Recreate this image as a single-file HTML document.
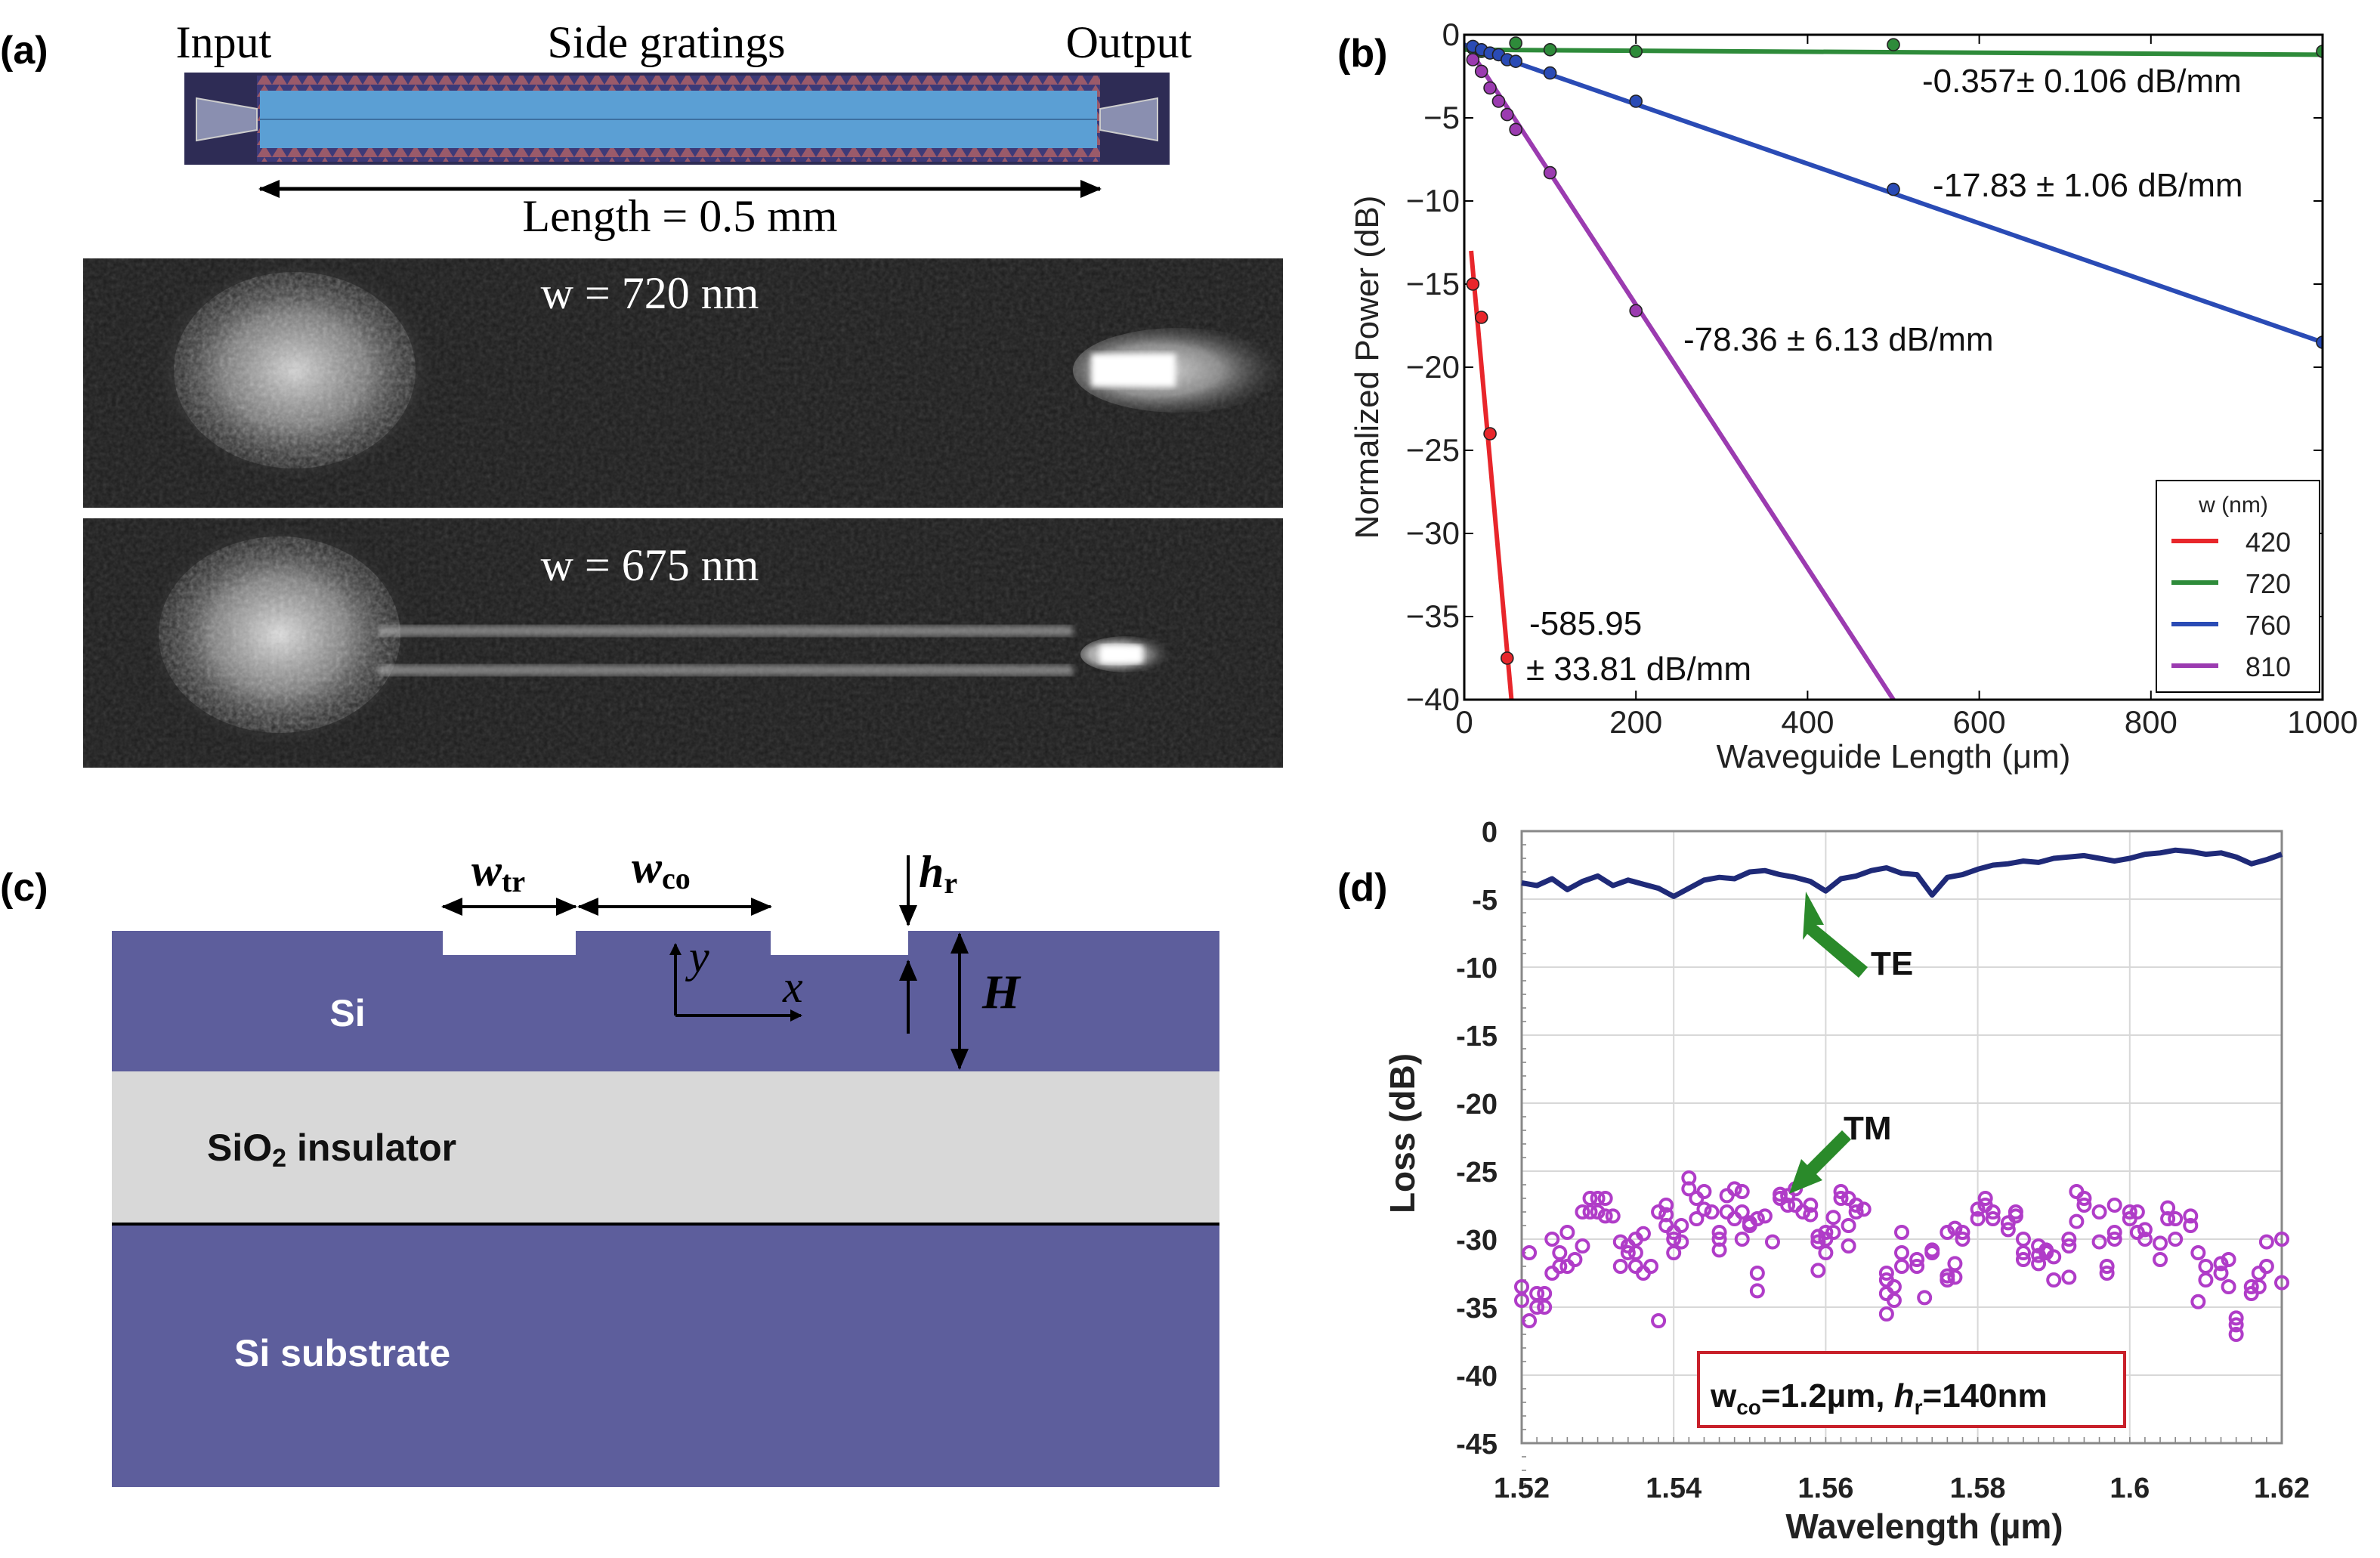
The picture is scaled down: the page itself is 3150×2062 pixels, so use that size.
<!DOCTYPE html>
<html><head><meta charset="utf-8">
<style>
html,body{margin:0;padding:0;background:#fff;}
svg{display:block;}
text{font-family:"Liberation Sans",sans-serif;}
.serif{font-family:"Liberation Serif",serif;}
</style></head>
<body>
<svg id="fig" width="3150" height="2062" viewBox="0 0 1575 1031" xmlns="http://www.w3.org/2000/svg">
<defs>
  <filter id="noise" x="0" y="0" width="100%" height="100%">
    <feTurbulence type="fractalNoise" baseFrequency="0.35" numOctaves="2" seed="3"/>
    <feColorMatrix type="saturate" values="0"/>
  </filter>
  <filter id="blur2"><feGaussianBlur stdDeviation="2"/></filter>
  <filter id="blur6"><feGaussianBlur stdDeviation="6"/></filter>
  <clipPath id="cl1"><ellipse cx="195" cy="245" rx="80" ry="65"/></clipPath>
  <clipPath id="cl2"><ellipse cx="185" cy="420" rx="80" ry="65"/></clipPath>
  <radialGradient id="blob" cx="0.5" cy="0.5" r="0.5">
    <stop offset="0" stop-color="#fff" stop-opacity="0.95"/>
    <stop offset="0.5" stop-color="#ccc" stop-opacity="0.6"/>
    <stop offset="1" stop-color="#333" stop-opacity="0"/>
  </radialGradient>
  <radialGradient id="spot" cx="0.4" cy="0.5" r="0.6">
    <stop offset="0" stop-color="#fff"/>
    <stop offset="0.5" stop-color="#ddd" stop-opacity="0.7"/>
    <stop offset="1" stop-color="#555" stop-opacity="0"/>
  </radialGradient>
  <pattern id="grat" width="10" height="8" patternUnits="userSpaceOnUse">
    <rect width="10" height="8" fill="#3d3a78"/>
    <polygon points="0,8 5,0 10,8" fill="#9a5a6a"/>
  </pattern>
  <marker id="ah" markerWidth="8" markerHeight="8" refX="7" refY="4" orient="auto" markerUnits="userSpaceOnUse">
    <path d="M0,0 L8,4 L0,8 Z" fill="#000"/>
  </marker>
  <marker id="ahs" markerWidth="14" markerHeight="12" refX="13" refY="6" orient="auto-start-reverse" markerUnits="userSpaceOnUse">
    <path d="M0,0 L14,6 L0,12 Z" fill="#000"/>
  </marker>
</defs>

<!-- ============ Panel (a) ============ -->
<g>
  <text x="0" y="42" font-size="26" font-weight="bold">(a)</text>
  <text class="serif" x="148" y="38" font-size="30" text-anchor="middle">Input</text>
  <text class="serif" x="441" y="38" font-size="30" text-anchor="middle">Side gratings</text>
  <text class="serif" x="747" y="38" font-size="30" text-anchor="middle">Output</text>
  <g>
    <rect x="122" y="48" width="652" height="61" fill="#2e2c55"/>
    <rect x="170" y="50" width="558" height="57" fill="url(#grat)"/>
    <rect x="172" y="60" width="554" height="38" fill="#5b9fd4"/>
    <line x1="172" y1="79" x2="726" y2="79" stroke="#3c6fa0" stroke-width="1"/>
    <polygon points="130,65 170,72 170,86 130,93" fill="#8a8fb0" stroke="#ccc" stroke-width="1"/>
    <polygon points="766,65 728,72 728,86 766,93" fill="#8a8fb0" stroke="#ccc" stroke-width="1"/>
  </g>
  <line x1="172" y1="125" x2="728" y2="125" stroke="#000" stroke-width="2.5" marker-start="url(#ahs)" marker-end="url(#ahs)"/>
  <text class="serif" x="450" y="153" font-size="30" text-anchor="middle">Length = 0.5 mm</text>

  <g>
    <rect x="55" y="171" width="794" height="165" fill="#1c1c1c"/>
    <rect x="55" y="171" width="794" height="165" filter="url(#noise)" opacity="0.18"/>
    <ellipse cx="195" cy="245" rx="95" ry="75" fill="url(#blob)" opacity="0.85"/>
    <rect x="110" y="175" width="170" height="150" filter="url(#noise)" opacity="0.35" clip-path="url(#cl1)"/>
    <ellipse cx="780" cy="245" rx="70" ry="28" fill="url(#spot)" opacity="0.8"/>
    <rect x="722" y="234" width="56" height="22" fill="#fff" filter="url(#blur2)"/>
    <text class="serif" x="430" y="204" font-size="30" fill="#fff" text-anchor="middle">w = 720 nm</text>
  </g>
  <g>
    <rect x="55" y="343" width="794" height="165" fill="#1c1c1c"/>
    <rect x="55" y="343" width="794" height="165" filter="url(#noise)" opacity="0.18"/>
    <ellipse cx="185" cy="420" rx="90" ry="75" fill="url(#blob)" opacity="0.9"/>
    <rect x="100" y="350" width="170" height="150" filter="url(#noise)" opacity="0.35" clip-path="url(#cl2)"/>
    <rect x="250" y="414" width="460" height="7" fill="#bbb" opacity="0.6" filter="url(#blur2)"/>
    <rect x="250" y="440" width="460" height="7" fill="#bbb" opacity="0.6" filter="url(#blur2)"/>
    <ellipse cx="745" cy="433" rx="30" ry="12" fill="url(#spot)"/>
    <rect x="728" y="427" width="28" height="12" fill="#fff" filter="url(#blur2)"/>
    <text class="serif" x="430" y="384" font-size="30" fill="#fff" text-anchor="middle">w = 675 nm</text>
  </g>
</g>

<!-- ============ Panel (c) ============ -->
<g>
  <text x="0" y="596" font-size="26" font-weight="bold">(c)</text>
  <polygon fill="#5d5e9c"
    points="74,616 293,616 293,632 381,632 381,616 510,616 510,632 601,632 601,616 807,616 807,709 74,709"/>
  <rect x="74" y="709" width="733" height="101" fill="#d8d8d8"/>
  <line x1="74" y1="810" x2="807" y2="810" stroke="#000" stroke-width="2"/>
  <rect x="74" y="811" width="733" height="173" fill="#5d5e9c"/>
  <text x="230" y="679" font-size="25" font-weight="bold" fill="#fff" text-anchor="middle">Si</text>
  <text x="137" y="768" font-size="25" font-weight="bold" fill="#111">SiO<tspan font-size="17" dy="4">2</tspan><tspan dy="-4"> insulator</tspan></text>
  <text x="155" y="904" font-size="25" font-weight="bold" fill="#fff">Si substrate</text>
  <line x1="293" y1="600" x2="381" y2="600" stroke="#000" stroke-width="2" marker-start="url(#ahs)" marker-end="url(#ahs)"/>
  <line x1="383" y1="600" x2="510" y2="600" stroke="#000" stroke-width="2" marker-start="url(#ahs)" marker-end="url(#ahs)"/>
  <text class="serif" x="312" y="586" font-size="30" font-style="italic" font-weight="bold">w<tspan font-size="20" dy="4" font-style="normal">tr</tspan></text>
  <text class="serif" x="418" y="584" font-size="30" font-style="italic" font-weight="bold">w<tspan font-size="20" dy="4" font-style="normal">co</tspan></text>
  <line x1="601" y1="566" x2="601" y2="612" stroke="#000" stroke-width="2" marker-end="url(#ahs)"/>
  <text class="serif" x="608" y="587" font-size="30" font-style="italic" font-weight="bold">h<tspan font-size="20" dy="4" font-style="normal">r</tspan></text>
  <line x1="601" y1="684" x2="601" y2="636" stroke="#000" stroke-width="2" marker-end="url(#ahs)"/>
  <line x1="635" y1="618" x2="635" y2="707" stroke="#000" stroke-width="2" marker-start="url(#ahs)" marker-end="url(#ahs)"/>
  <text class="serif" x="650" y="667" font-size="32" font-style="italic" font-weight="bold">H</text>
  <line x1="447" y1="672" x2="447" y2="625" stroke="#000" stroke-width="2" marker-end="url(#ah)"/>
  <line x1="447" y1="672" x2="530" y2="672" stroke="#000" stroke-width="2" marker-end="url(#ah)"/>
  <text class="serif" x="456" y="643" font-size="30" font-style="italic">y</text>
  <text class="serif" x="518" y="663" font-size="30" font-style="italic">x</text>
</g>

<!-- ============ Panel (b) ============ -->
<g id="panelB">
  <text x="885" y="44" font-size="26" font-weight="bold">(b)</text>
</g>

<!-- ============ Panel (d) ============ -->
<g id="panelD">
  <text x="885" y="596" font-size="26" font-weight="bold">(d)</text>
</g>
</svg>

<script>
// ---------- Panel (b) data ----------
const bXTicks = [0, 200, 400, 600, 800, 1000];
const bYTicks = [0, -5, -10, -15, -20, -25, -30, -35, -40];
const seriesNames = ["420", "720", "760", "810"];
const seriesColors = ["#e8262b", "#2e8b3a", "#2a4bb5", "#9b3bb0"];
const red420X = [10, 20, 30, 50];
const red420Y = [-15, -17, -24, -37.5];
const green720X = [10, 20, 60, 100, 200, 500, 1000];
const green720Y = [-0.8, -1.0, -0.5, -0.9, -1.0, -0.6, -1.0];
const blue760X = [10, 20, 30, 40, 50, 60, 100, 200, 500, 1000];
const blue760Y = [-0.7, -0.9, -1.1, -1.2, -1.5, -1.6, -2.3, -4.0, -9.3, -18.5];
const purple810X = [10, 20, 30, 40, 50, 60, 100, 200];
const purple810Y = [-1.5, -2.2, -3.2, -4.0, -4.8, -5.7, -8.3, -16.6];
const red420Fit = [8, -13, 55, -40];
const green720Fit = [0, -0.9, 1000, -1.2];
const blue760Fit = [0, -0.6, 1000, -18.5];
const purple810Fit = [10, -1.2, 500, -40];
const fitLabels = ["-0.357\u00b1 0.106 dB/mm", "-17.83 \u00b1 1.06 dB/mm", "-78.36 \u00b1 6.13 dB/mm", "-585.95", "\u00b1 33.81 dB/mm"];

// ---------- Panel (d) data ----------
const dXTicks = [1.52, 1.54, 1.56, 1.58, 1.6, 1.62];
const dXTickLabels = ["1.52", "1.54", "1.56", "1.58", "1.6", "1.62"];
const dYTicks = [0, -5, -10, -15, -20, -25, -30, -35, -40, -45];
const teX = [1.520,1.522,1.524,1.526,1.528,1.530,1.532,1.534,1.536,1.538,1.540,1.542,1.544,1.546,1.548,1.550,1.552,1.554,1.556,1.558,1.560,1.562,1.564,1.566,1.568,1.570,1.572,1.574,1.576,1.578,1.580,1.582,1.584,1.586,1.588,1.590,1.592,1.594,1.596,1.598,1.600,1.602,1.604,1.606,1.608,1.610,1.612,1.614,1.616,1.618,1.620];
const teY = [-3.8,-4.0,-3.5,-4.3,-3.7,-3.3,-4.0,-3.6,-3.9,-4.2,-4.8,-4.2,-3.6,-3.4,-3.5,-3.0,-2.9,-3.2,-3.4,-3.7,-4.4,-3.5,-3.3,-2.9,-2.7,-3.1,-3.2,-4.7,-3.4,-3.2,-2.8,-2.5,-2.4,-2.2,-2.3,-2.0,-1.9,-1.8,-2.0,-2.2,-2.0,-1.7,-1.6,-1.4,-1.5,-1.7,-1.6,-1.9,-2.4,-2.1,-1.7];
const tmX = [1.520,1.520,1.521,1.521,1.522,1.522,1.523,1.523,1.524,1.524,1.525,1.525,1.526,1.526,1.527,1.528,1.528,1.529,1.529,1.530,1.530,1.531,1.531,1.532,1.533,1.533,1.534,1.534,1.535,1.535,1.535,1.536,1.536,1.537,1.538,1.538,1.539,1.539,1.539,1.540,1.540,1.540,1.541,1.541,1.542,1.542,1.543,1.543,1.544,1.544,1.545,1.546,1.546,1.546,1.547,1.547,1.548,1.548,1.549,1.549,1.549,1.550,1.550,1.551,1.551,1.551,1.552,1.553,1.554,1.554,1.555,1.555,1.556,1.556,1.557,1.558,1.558,1.559,1.559,1.559,1.560,1.560,1.560,1.561,1.561,1.562,1.562,1.563,1.563,1.563,1.564,1.564,1.565,1.568,1.568,1.568,1.568,1.569,1.569,1.570,1.570,1.570,1.572,1.572,1.573,1.574,1.574,1.576,1.576,1.576,1.577,1.577,1.577,1.578,1.578,1.580,1.580,1.581,1.581,1.582,1.582,1.584,1.584,1.585,1.585,1.586,1.586,1.586,1.588,1.588,1.588,1.589,1.589,1.590,1.590,1.592,1.592,1.592,1.593,1.593,1.594,1.594,1.596,1.596,1.597,1.597,1.598,1.598,1.598,1.600,1.600,1.601,1.601,1.602,1.602,1.604,1.604,1.605,1.605,1.606,1.606,1.608,1.608,1.609,1.609,1.610,1.610,1.612,1.612,1.613,1.613,1.614,1.614,1.614,1.616,1.616,1.617,1.617,1.618,1.618,1.620,1.620];
const tmY = [-33.5,-34.5,-31,-36,-34,-35,-35,-34,-32.5,-30,-31,-32,-29.5,-32,-31.5,-28,-30.5,-27,-28,-27,-28,-27,-28.3,-28.3,-30.2,-32,-31,-30.5,-32,-31,-30,-29.6,-32.5,-32,-36,-28,-28.2,-27.5,-29,-29.5,-30,-31,-29,-30.2,-26.3,-25.5,-27,-28.5,-26.5,-27.8,-28,-29.5,-30.8,-30,-28,-26.8,-26.3,-28.5,-26.5,-28,-30,-29,-28.8,-28.5,-32.5,-33.8,-28.3,-30.2,-27,-26.7,-27.5,-26.8,-26.3,-27.5,-28,-27.5,-28.2,-29.8,-30.2,-32.3,-31,-30,-29.5,-29.5,-28.4,-26.5,-27,-27,-29,-30.5,-27.5,-28,-27.8,-33,-32.5,-34,-35.5,-34.5,-33.5,-32,-31,-29.5,-32,-31.5,-34.3,-30.8,-31,-29.5,-33,-32.7,-31.8,-29.2,-32.8,-29.5,-30,-28.5,-27.8,-27.5,-27,-28,-28.5,-29.3,-28.8,-28.3,-28,-30,-31,-31.5,-30.5,-31.8,-31.2,-30.8,-31,-31.3,-33,-30,-30.5,-32.8,-28.7,-26.5,-27,-27.5,-30.2,-28,-32.5,-32,-29.5,-30,-27.5,-28,-28.5,-29.5,-28,-29.3,-30,-30.3,-31.5,-27.7,-28.5,-28.5,-30,-29,-28.3,-31,-34.6,-32,-33,-32.5,-31.8,-31.5,-33.5,-35.8,-36.3,-37,-33.5,-34,-32.5,-33.5,-32,-30.2,-33.2,-30];

const NS = "http://www.w3.org/2000/svg";
function mk(parent, tag, attrs, txt) {
  const e = document.createElementNS(NS, tag);
  for (const k in attrs) e.setAttribute(k, attrs[k]);
  if (txt !== undefined) e.textContent = txt;
  parent.appendChild(e);
  return e;
}

// ===== Panel (b) =====
(function(){
  const g = document.getElementById("panelB");
  const L = 969, R = 1537, T = 23, B = 463;
  const xs = v => L + (v - 0) / 1000 * (R - L);
  const ys = v => T + (0 - v) / 40 * (B - T);
  const clip = mk(g, "clipPath", {id: "clipB"});
  mk(clip, "rect", {x: L, y: T, width: R - L, height: B - T});
  bXTicks.forEach(t => {
    const x = xs(t);
    const tk = mk(g, "line", {x1: x, y1: B, x2: x, y2: B - 6, stroke: "#000", "stroke-width": 1});
    
    
    mk(g, "line", {x1: x, y1: T, x2: x, y2: T + 6, stroke: "#000", "stroke-width": 1});
    const lb = mk(g, "text", {x: x, y: B + 22, "font-size": 21, "text-anchor": "middle", fill: "#222"}, String(t));
    
    
  });
  bYTicks.forEach(t => {
    const y = ys(t);
    const tk = mk(g, "line", {x1: L, y1: y, x2: L + 6, y2: y, stroke: "#000", "stroke-width": 1});
    
    
    mk(g, "line", {x1: R, y1: y, x2: R - 6, y2: y, stroke: "#000", "stroke-width": 1});
    const lb = mk(g, "text", {x: L - 3, y: y + 7, "font-size": 21, "text-anchor": "end", fill: "#222"}, t === 0 ? "0" : "\u2212" + Math.abs(t));
    
    
  });
  const xt = mk(g, "text", {x: (L + R) / 2, y: 508, "font-size": 22, "text-anchor": "middle", fill: "#222"}, "Waveguide Length (\u03bcm)");
  
  
  const yt = mk(g, "text", {x: 0, y: 0, "font-size": 22, "text-anchor": "middle", fill: "#222", transform: "translate(912,243) rotate(-90)"}, "Normalized Power (dB)");
  
  

  const fits = [red420Fit, green720Fit, blue760Fit, purple810Fit];
  const ptsX = [red420X, green720X, blue760X, purple810X];
  const ptsY = [red420Y, green720Y, blue760Y, purple810Y];
  const cg = mk(g, "g", {"clip-path": "url(#clipB)"});
  [1, 2, 3, 0].forEach(i => {
    const f = fits[i];
    const ln = mk(cg, "line", {x1: xs(f[0]), y1: ys(f[1]), x2: xs(f[2]), y2: ys(f[3]), stroke: seriesColors[i], "stroke-width": 3});
    
    
    ptsX[i].forEach((xv, j) => {
      const c = mk(cg, "circle", {cx: xs(xv), cy: ys(ptsY[i][j]), r: 4, fill: seriesColors[i], stroke: "#222", "stroke-width": 0.8});
      
      
    });
  });
  mk(g, "rect", {x: L, y: T, width: R - L, height: B - T, fill: "none", stroke: "#000", "stroke-width": 1.5});
  const ann = [[1272, 61], [1279, 130], [1114, 232], [1012, 420], [1010, 450]];
  fitLabels.forEach((s, i) => {
    const a = mk(g, "text", {x: ann[i][0], y: ann[i][1], "font-size": 22, fill: "#111"}, s);
    
    
  });
  const lg = mk(g, "g", {});
  
  
  mk(lg, "rect", {x: 1427, y: 318, width: 108, height: 140, fill: "#fff", stroke: "#000", "stroke-width": 1});
  mk(lg, "text", {x: 1478, y: 339, "font-size": 15, "text-anchor": "middle", fill: "#222"}, "w (nm)");
  seriesNames.forEach((n, i) => {
    const y = 359 + i * 27.5;
    const e = mk(lg, "g", {});
    
    
    mk(e, "line", {x1: 1437, y1: y - 1, x2: 1468, y2: y - 1, stroke: seriesColors[i], "stroke-width": 3});
    mk(e, "text", {x: 1516, y: y + 6, "font-size": 18, "text-anchor": "end", fill: "#222"}, n);
  });
})();

// ===== Panel (d) =====
(function(){
  const g = document.getElementById("panelD");
  const L = 1007, R = 1510, T = 550, B = 955;
  const xs = v => L + (v - 1.52) / 0.1 * (R - L);
  const ys = v => T + (0 - v) / 45 * (B - T);
  for (let v = 1.52; v <= 1.6201; v += 0.02) {
    mk(g, "line", {x1: xs(v), y1: T, x2: xs(v), y2: B, stroke: "#d8d8d8", "stroke-width": 1});
  }
  dYTicks.forEach(t => {
    const y = ys(t);
    const gl = mk(g, "line", {x1: L, y1: y, x2: R, y2: y, stroke: "#d8d8d8", "stroke-width": 1});
    
    
    const lb = mk(g, "text", {x: L - 16, y: y + 7, "font-size": 19, "font-weight": "bold", "text-anchor": "end", fill: "#222"}, String(t));
    
    
    for (let k = 1; k < 5; k++) mk(g, "line", {x1: L, y1: y + k * (ys(-1) - ys(0)), x2: L + 3, y2: y + k * (ys(-1) - ys(0)), stroke: "#888", "stroke-width": 0.8});
  });
  dXTicks.forEach((t, i) => {
    const x = xs(t);
    const lb = mk(g, "text", {x: x, y: B + 36, "font-size": 19, "font-weight": "bold", "text-anchor": "middle", fill: "#222"}, dXTickLabels[i]);
    
    
  });
  for (let k = 0; k <= 50; k++) { const x = xs(1.52 + k * 0.002); mk(g, "line", {x1: x, y1: B, x2: x, y2: B - 4, stroke: "#888", "stroke-width": 0.8}); }
  mk(g, "rect", {x: L, y: T, width: R - L, height: B - T, fill: "none", stroke: "#888", "stroke-width": 1.5});
  const xt = mk(g, "text", {x: (L + R) / 2 + 15, y: 1018, "font-size": 23, "font-weight": "bold", "text-anchor": "middle", fill: "#222"}, "Wavelength (\u00b5m)");
  
  
  const yt = mk(g, "text", {x: 0, y: 0, "font-size": 23, "font-weight": "bold", "text-anchor": "middle", fill: "#222", transform: "translate(936,750) rotate(-90)"}, "Loss (dB)");
  
  
  const d = teX.map((x, i) => (i ? "L" : "M") + xs(x).toFixed(1) + "," + ys(teY[i]).toFixed(1)).join(" ");
  const te = mk(g, "path", {d: d, fill: "none", stroke: "#1f2a78", "stroke-width": 3.5, "stroke-linejoin": "round"});
  
  
  tmX.forEach((x, i) => {
    const c = mk(g, "circle", {cx: xs(x), cy: ys(tmY[i]), r: 4, fill: "none", stroke: "#b03cc8", "stroke-width": 2});
    
    
  });
  const a1 = mk(g, "polygon", {points: "1195,590 1207,612 1202,612 1236,640 1230,647 1196,618 1193,622", fill: "#2a8a2a"});
  
  
  mk(g, "text", {x: 1238, y: 645, "font-size": 22, "font-weight": "bold", fill: "#111"}, "TE");
  const a2 = mk(g, "polygon", {points: "1184,790 1192,767 1196,771 1219,748 1225,754 1202,777 1206,781", fill: "#2a8a2a"});
  
  
  mk(g, "text", {x: 1220, y: 754, "font-size": 22, "font-weight": "bold", fill: "#111"}, "TM");
  const bx = mk(g, "g", {});
  
  
  mk(bx, "rect", {x: 1124, y: 895, width: 282, height: 49, fill: "#fff", stroke: "#c8202a", "stroke-width": 2});
  const tx = mk(bx, "text", {x: 1132, y: 931, "font-size": 22, "font-weight": "bold", fill: "#111"});
  tx.innerHTML = 'w<tspan font-size="14" dy="5">co</tspan><tspan dy="-5">=1.2\u00b5m, </tspan><tspan font-style="italic">h</tspan><tspan font-size="14" dy="5">r</tspan><tspan dy="-5">=140nm</tspan>';
})();
</script>
</body></html>
